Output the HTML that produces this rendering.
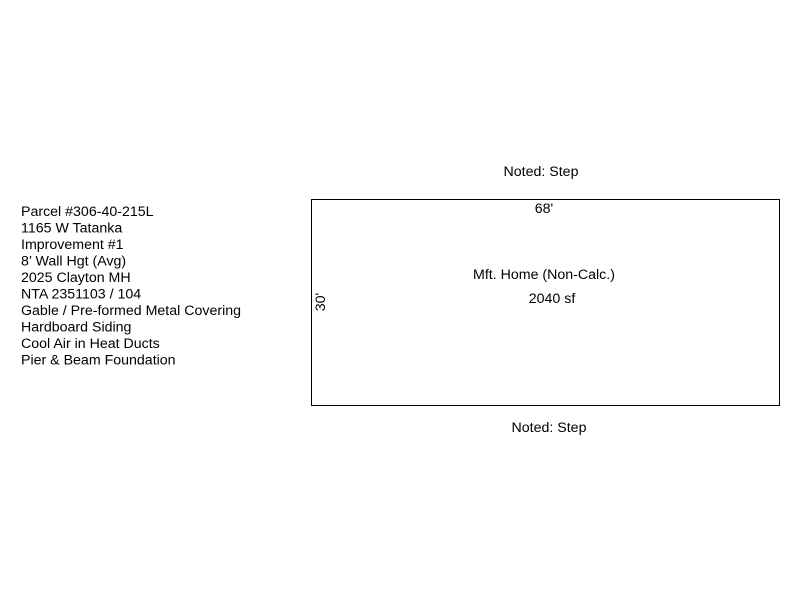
<!DOCTYPE html>
<html><head><style>html,body{margin:0;padding:0;background:#fff;}</style></head>
<body>
<svg width="800" height="600" xmlns="http://www.w3.org/2000/svg" style="display:block" font-family="Liberation Sans, Arial, sans-serif" font-size="14.2" fill="#000">
<rect x="311.5" y="199.5" width="468" height="206" fill="none" stroke="#000" stroke-width="1"/>
<text x="541" y="176" text-anchor="middle">Noted: Step</text>
<text x="549" y="432" text-anchor="middle">Noted: Step</text>
<text x="544" y="213" text-anchor="middle">68'</text>
<text x="544" y="279" text-anchor="middle">Mft. Home (Non-Calc.)</text>
<text x="552" y="303" text-anchor="middle">2040 sf</text>
<text transform="translate(325,302) rotate(-90)" text-anchor="middle">30'</text>
<g>
<text x="21" y="216">Parcel #306-40-215L</text>
<text x="21" y="232.5">1165 W Tatanka</text>
<text x="21" y="249">Improvement #1</text>
<text x="21" y="265.5">8’ Wall Hgt (Avg)</text>
<text x="21" y="282">2025 Clayton MH</text>
<text x="21" y="298.5">NTA 2351103 / 104</text>
<text x="21" y="315">Gable / Pre-formed Metal Covering</text>
<text x="21" y="331.5">Hardboard Siding</text>
<text x="21" y="348">Cool Air in Heat Ducts</text>
<text x="21" y="364.5">Pier &amp; Beam Foundation</text>
</g>
</svg>
</body></html>
